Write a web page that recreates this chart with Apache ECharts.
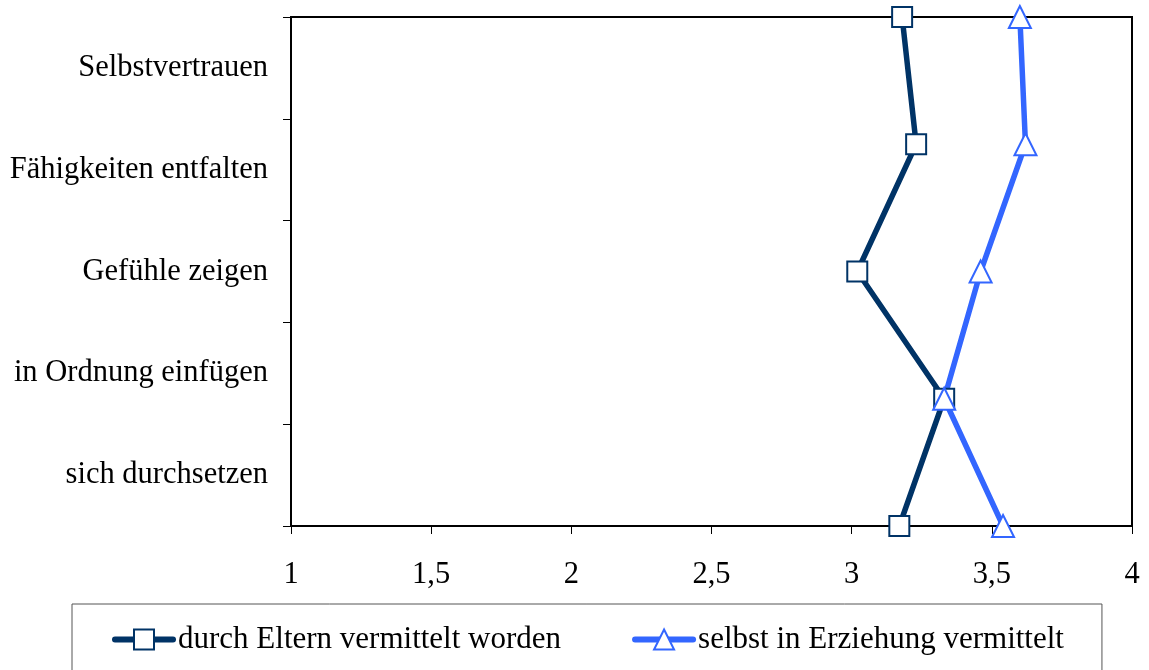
<!DOCTYPE html>
<html>
<head>
    <meta charset="UTF-8">
    <title></title>
    <script type="text/javascript" src="https://cdn.jsdelivr.net/npm/echarts@6/dist/echarts.min.js"></script>
    <style type="text/css">
        body { margin: 0; background: #ffffff; }
        #chart { width: 1149px; height: 670px; }
    </style>
</head>
<body>
<div id="chart"></div>
<script type="text/javascript">
    var categories = ['Selbstvertrauen', 'Fähigkeiten entfalten', 'Gefühle zeigen', 'in Ordnung einfügen', 'sich durchsetzen'];
    var seriesNames = ['durch Eltern vermittelt worden', 'selbst in Erziehung vermittelt'];
    var elternValues = [3.18, 3.23, 3.02, 3.33, 3.17];
    var selbstValues = [3.60, 3.62, 3.46, 3.33, 3.54];
    var xTicks = { min: 1, max: 4, interval: 0.5 };

    var font = '"Liberation Serif", "Times New Roman", serif';
    var chart = echarts.init(document.getElementById('chart'));

    chart.setOption({
        animation: false,
        textStyle: { fontFamily: font },
        grid: {
            left: 291, right: 17, top: 17, bottom: 144,
            show: true, borderColor: '#000', borderWidth: 2,
            containLabel: false
        },
        legend: {
            data: seriesNames,
            left: 72, top: 604,
            padding: [20, 38, 30, 40],
            borderColor: '#555', borderWidth: 1,
            itemGap: 71,
            itemWidth: 58, itemHeight: 25,
            lineStyle: { width: 6, cap: 'round' },
            textStyle: { fontFamily: font, fontSize: 31, color: '#000' }
        },
        xAxis: {
            type: 'value',
            min: xTicks.min, max: xTicks.max, interval: xTicks.interval,
            axisLine: { show: true, lineStyle: { color: '#000', width: 2 } },
            axisTick: { show: true, length: 8, lineStyle: { color: '#000' } },
            splitLine: { show: false },
            axisLabel: {
                color: '#000', fontSize: 30.5, fontFamily: font, margin: 33,
                formatter: function (v) { return String(v).replace('.', ','); }
            }
        },
        yAxis: [{
            type: 'category',
            data: categories,
            inverse: true,
            boundaryGap: true,
            axisLine: { show: true, lineStyle: { color: '#000', width: 2 } },
            axisTick: { show: true, length: 8, lineStyle: { color: '#000' } },
            axisLabel: { color: '#000', fontSize: 30.5, fontFamily: font, margin: 23 }
        }, {
            type: 'category',
            data: categories,
            inverse: true,
            boundaryGap: false,
            show: false
        }],
        series: [{
            name: seriesNames[0],
            type: 'line',
            yAxisIndex: 1,
            data: elternValues,
            symbol: 'rect',
            symbolSize: 20,
            lineStyle: { color: '#003366', width: 5.5 },
            itemStyle: { color: '#ffffff', borderColor: '#003366', borderWidth: 2 }
        }, {
            name: seriesNames[1],
            type: 'line',
            yAxisIndex: 1,
            data: selbstValues,
            symbol: 'triangle',
            symbolSize: 22,
            lineStyle: { color: '#3366ff', width: 5.5 },
            itemStyle: { color: '#ffffff', borderColor: '#3366ff', borderWidth: 2 }
        }]
    });
</script>
</body>
</html>
